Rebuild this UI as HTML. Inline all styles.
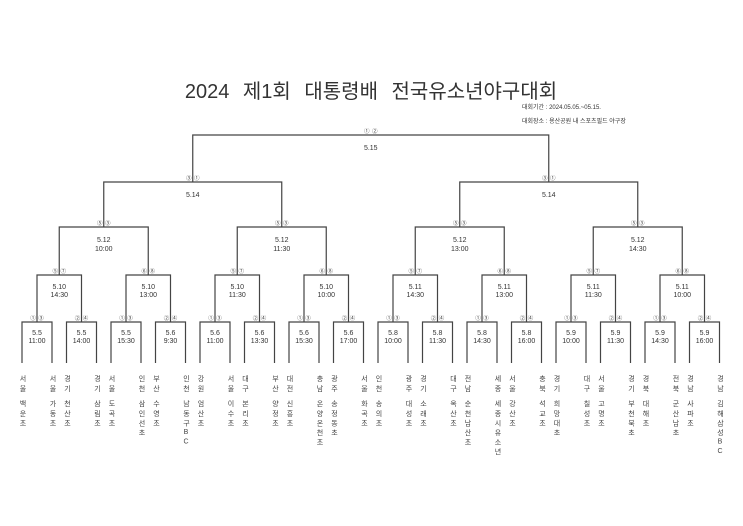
<!DOCTYPE html>
<html><head><meta charset="utf-8"><style>
body{margin:0;background:#fff;width:743px;height:526px;position:relative;overflow:hidden;font-family:"Liberation Sans","Noto Sans CJK KR",sans-serif;color:#333}
.v{position:absolute;width:8px;font-size:7px;line-height:8px;writing-mode:vertical-rl;text-orientation:upright;letter-spacing:2.6px;text-align:left;color:#444}
.r{top:375px}.s{top:400px}
svg{position:absolute;left:0;top:0}
svg text{font-family:"Liberation Sans","Noto Sans CJK KR",sans-serif;fill:#333}
</style></head><body>
<svg width="743" height="526">
<text x="371" y="98" font-size="20" text-anchor="middle" word-spacing="8" fill="#000">2024 제1회 대통령배 전국유소년야구대회</text>
<text x="522" y="109" font-size="6">대회기간 : 2024.05.05.~05.15.</text>
<text x="522" y="123" font-size="6">대회장소 : 용산공원 내 스포츠필드 야구장</text>
<g fill="none" stroke="#444" stroke-width="1.2">
<path d="M22,363V322H52V363M66.5,363V322H96.5V363M111,363V322H141V363M155.5,363V322H185.5V363M200,363V322H230V363M244.5,363V322H274.5V363M289,363V322H319V363M333.5,363V322H363.5V363M378,363V322H408V363M422.5,363V322H452.5V363M467,363V322H497V363M511.5,363V322H541.5V363M556,363V322H586V363M600.5,363V322H630.5V363M645,363V322H675V363M689.5,363V322H719.5V363"/>
<path d="M37,322V275H81.5V322M126,322V275H170.5V322M215,322V275H259.5V322M304,322V275H348.5V322M393,322V275H437.5V322M482,322V275H526.5V322M571,322V275H615.5V322M660,322V275H704.5V322"/>
<path d="M59.25,275V227H148.25V275M237.25,275V227H326.25V275M415.25,275V227H504.25V275M593.25,275V227H682.25V275"/>
<path d="M103.75,227V182H281.75V227M459.75,227V182H637.75V227"/>
<path d="M192.75,182V135H548.75V182"/>
</g>
<g font-size="7" text-anchor="middle">
<text x="37" y="335">5.5</text><text x="37" y="343">11:00</text>
<text x="81.5" y="335">5.5</text><text x="81.5" y="343">14:00</text>
<text x="126" y="335">5.5</text><text x="126" y="343">15:30</text>
<text x="170.5" y="335">5.6</text><text x="170.5" y="343">9:30</text>
<text x="215" y="335">5.6</text><text x="215" y="343">11:00</text>
<text x="259.5" y="335">5.6</text><text x="259.5" y="343">13:30</text>
<text x="304" y="335">5.6</text><text x="304" y="343">15:30</text>
<text x="348.5" y="335">5.6</text><text x="348.5" y="343">17:00</text>
<text x="393" y="335">5.8</text><text x="393" y="343">10:00</text>
<text x="437.5" y="335">5.8</text><text x="437.5" y="343">11:30</text>
<text x="482" y="335">5.8</text><text x="482" y="343">14:30</text>
<text x="526.5" y="335">5.8</text><text x="526.5" y="343">16:00</text>
<text x="571" y="335">5.9</text><text x="571" y="343">10:00</text>
<text x="615.5" y="335">5.9</text><text x="615.5" y="343">11:30</text>
<text x="660" y="335">5.9</text><text x="660" y="343">14:30</text>
<text x="704.5" y="335">5.9</text><text x="704.5" y="343">16:00</text>
<text x="59.25" y="289">5.10</text><text x="59.25" y="297">14:30</text>
<text x="148.25" y="289">5.10</text><text x="148.25" y="297">13:00</text>
<text x="237.25" y="289">5.10</text><text x="237.25" y="297">11:30</text>
<text x="326.25" y="289">5.10</text><text x="326.25" y="297">10:00</text>
<text x="415.25" y="289">5.11</text><text x="415.25" y="297">14:30</text>
<text x="504.25" y="289">5.11</text><text x="504.25" y="297">13:00</text>
<text x="593.25" y="289">5.11</text><text x="593.25" y="297">11:30</text>
<text x="682.25" y="289">5.11</text><text x="682.25" y="297">10:00</text>
<text x="103.75" y="242">5.12</text><text x="103.75" y="251">10:00</text>
<text x="281.75" y="242">5.12</text><text x="281.75" y="251">11:30</text>
<text x="459.75" y="242">5.12</text><text x="459.75" y="251">13:00</text>
<text x="637.75" y="242">5.12</text><text x="637.75" y="251">14:30</text>
<text x="192.75" y="197">5.14</text><text x="548.75" y="197">5.14</text>
<text x="370.75" y="150">5.15</text>
</g>
<g font-size="5.5" text-anchor="middle" fill="#555">
<text x="33" y="320">①</text><text x="41" y="320">③</text>
<text x="77.5" y="320">②</text><text x="85.5" y="320">④</text>
<text x="122" y="320">①</text><text x="130" y="320">③</text>
<text x="166.5" y="320">②</text><text x="174.5" y="320">④</text>
<text x="211" y="320">①</text><text x="219" y="320">③</text>
<text x="255.5" y="320">②</text><text x="263.5" y="320">④</text>
<text x="300" y="320">①</text><text x="308" y="320">③</text>
<text x="344.5" y="320">②</text><text x="352.5" y="320">④</text>
<text x="389" y="320">①</text><text x="397" y="320">③</text>
<text x="433.5" y="320">②</text><text x="441.5" y="320">④</text>
<text x="478" y="320">①</text><text x="486" y="320">③</text>
<text x="522.5" y="320">②</text><text x="530.5" y="320">④</text>
<text x="567" y="320">①</text><text x="575" y="320">③</text>
<text x="611.5" y="320">②</text><text x="619.5" y="320">④</text>
<text x="656" y="320">①</text><text x="664" y="320">③</text>
<text x="700.5" y="320">②</text><text x="708.5" y="320">④</text>
<text x="55.25" y="273">⑤</text><text x="63.25" y="273">⑦</text>
<text x="144.25" y="273">⑥</text><text x="152.25" y="273">⑧</text>
<text x="233.25" y="273">⑤</text><text x="241.25" y="273">⑦</text>
<text x="322.25" y="273">⑥</text><text x="330.25" y="273">⑧</text>
<text x="411.25" y="273">⑤</text><text x="419.25" y="273">⑦</text>
<text x="500.25" y="273">⑥</text><text x="508.25" y="273">⑧</text>
<text x="589.25" y="273">⑤</text><text x="597.25" y="273">⑦</text>
<text x="678.25" y="273">⑥</text><text x="686.25" y="273">⑧</text>
<text x="99.75" y="225">⑤</text><text x="107.75" y="225">③</text>
<text x="277.75" y="225">⑤</text><text x="285.75" y="225">③</text>
<text x="455.75" y="225">⑤</text><text x="463.75" y="225">③</text>
<text x="633.75" y="225">⑤</text><text x="641.75" y="225">③</text>
<text x="188.75" y="180">③</text><text x="196.75" y="180">①</text>
<text x="544.75" y="180">③</text><text x="552.75" y="180">①</text>
<text x="366.75" y="133">①</text><text x="374.75" y="133">②</text>
</g>
</svg>
<div class="v r" style="left:18px">서울</div><div class="v s" style="left:18px">백운초</div>
<div class="v r" style="left:48px">서울</div><div class="v s" style="left:48px">가동초</div>
<div class="v r" style="left:62.5px">경기</div><div class="v s" style="left:62.5px">천산초</div>
<div class="v r" style="left:92.5px">경기</div><div class="v s" style="left:92.5px">삼림초</div>
<div class="v r" style="left:107px">서울</div><div class="v s" style="left:107px">도곡초</div>
<div class="v r" style="left:137px">인천</div><div class="v s" style="left:137px">삼인선초</div>
<div class="v r" style="left:151.5px">부산</div><div class="v s" style="left:151.5px">수영초</div>
<div class="v r" style="left:181.5px">인천</div><div class="v s" style="left:181.5px">남동구BC</div>
<div class="v r" style="left:196px">강원</div><div class="v s" style="left:196px">엄산초</div>
<div class="v r" style="left:226px">서울</div><div class="v s" style="left:226px">이수초</div>
<div class="v r" style="left:240.5px">대구</div><div class="v s" style="left:240.5px">본리초</div>
<div class="v r" style="left:270.5px">부산</div><div class="v s" style="left:270.5px">양정초</div>
<div class="v r" style="left:285px">대전</div><div class="v s" style="left:285px">신흥초</div>
<div class="v r" style="left:315px">충남</div><div class="v s" style="left:315px">온양온천초</div>
<div class="v r" style="left:329.5px">광주</div><div class="v s" style="left:329.5px">송정동초</div>
<div class="v r" style="left:359.5px">서울</div><div class="v s" style="left:359.5px">화곡초</div>
<div class="v r" style="left:374px">인천</div><div class="v s" style="left:374px">송의초</div>
<div class="v r" style="left:404px">광주</div><div class="v s" style="left:404px">대성초</div>
<div class="v r" style="left:418.5px">경기</div><div class="v s" style="left:418.5px">소래초</div>
<div class="v r" style="left:448.5px">대구</div><div class="v s" style="left:448.5px">옥산초</div>
<div class="v r" style="left:463px">전남</div><div class="v s" style="left:463px">순천남산초</div>
<div class="v r" style="left:493px">세종</div><div class="v s" style="left:493px">세종시유소년</div>
<div class="v r" style="left:507.5px">서울</div><div class="v s" style="left:507.5px">강산초</div>
<div class="v r" style="left:537.5px">충북</div><div class="v s" style="left:537.5px">석교초</div>
<div class="v r" style="left:552px">경기</div><div class="v s" style="left:552px">희망대초</div>
<div class="v r" style="left:582px">대구</div><div class="v s" style="left:582px">칠성초</div>
<div class="v r" style="left:596.5px">서울</div><div class="v s" style="left:596.5px">고명초</div>
<div class="v r" style="left:626.5px">경기</div><div class="v s" style="left:626.5px">부천북초</div>
<div class="v r" style="left:641px">경북</div><div class="v s" style="left:641px">대해초</div>
<div class="v r" style="left:671px">전북</div><div class="v s" style="left:671px">군산남초</div>
<div class="v r" style="left:685.5px">경남</div><div class="v s" style="left:685.5px">사파초</div>
<div class="v r" style="left:715.5px">경남</div><div class="v s" style="left:715.5px">김해삼성BC</div>
</body></html>
